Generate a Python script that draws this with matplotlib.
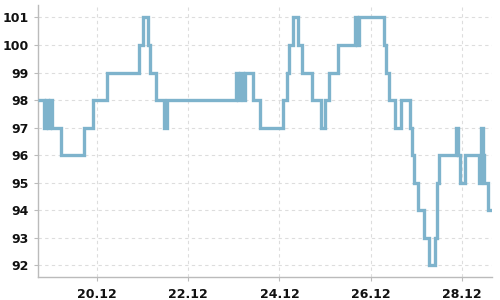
import numpy as np
import pandas as pd
import matplotlib
matplotlib.use('Agg')
import matplotlib.pyplot as plt
import matplotlib.dates as mdates

# momentos en que cambia el valor y valor a partir de ese momento
fechas = ['2020-12-18 17:00', '2020-12-18 20:00', '2020-12-18 21:00',
          '2020-12-18 22:00', '2020-12-18 23:00', '2020-12-19 00:00',
          '2020-12-19 05:00', '2020-12-19 17:00', '2020-12-19 22:00',
          '2020-12-20 05:00', '2020-12-20 22:00', '2020-12-21 00:00',
          '2020-12-21 03:00', '2020-12-21 04:00', '2020-12-21 07:00',
          '2020-12-21 11:00', '2020-12-21 13:00', '2020-12-23 01:00',
          '2020-12-23 02:00', '2020-12-23 03:00', '2020-12-23 05:00',
          '2020-12-23 06:00', '2020-12-23 10:00', '2020-12-23 14:00',
          '2020-12-24 02:00', '2020-12-24 04:00', '2020-12-24 05:00',
          '2020-12-24 07:00', '2020-12-24 10:00', '2020-12-24 12:00',
          '2020-12-24 17:00', '2020-12-24 22:00', '2020-12-25 00:00',
          '2020-12-25 02:00', '2020-12-25 07:00', '2020-12-25 16:00',
          '2020-12-25 17:00', '2020-12-25 18:00', '2020-12-26 07:00',
          '2020-12-26 08:00', '2020-12-26 10:00', '2020-12-26 13:00',
          '2020-12-26 16:00', '2020-12-26 21:00', '2020-12-26 22:00',
          '2020-12-26 23:00', '2020-12-27 01:00', '2020-12-27 04:00',
          '2020-12-27 07:00', '2020-12-27 10:00', '2020-12-27 11:00',
          '2020-12-27 12:00', '2020-12-27 21:00', '2020-12-27 22:00',
          '2020-12-27 23:00', '2020-12-28 02:00', '2020-12-28 09:00',
          '2020-12-28 10:00', '2020-12-28 11:00', '2020-12-28 12:00',
          '2020-12-28 14:00', '2020-12-28 16:00']
valores = [98, 97, 98, 97, 98, 97, 96, 97, 98, 99, 100, 101, 100, 99, 98,
           97, 98, 99, 98, 99, 98, 99, 98, 97, 98, 99, 100, 101, 100, 99,
           98, 97, 98, 99, 100, 101, 100, 101, 100, 99, 98, 97, 98, 97, 96,
           95, 94, 93, 92, 93, 95, 96, 97, 96, 95, 96, 95, 97, 96, 95, 94,
           94]
yticks = [92, 93, 94, 95, 96, 97, 98, 99, 100, 101]

x = pd.to_datetime(fechas)
y = np.array(valores)

fig = plt.figure(figsize=(5, 3), dpi=100)
ax = fig.add_axes([0.0766, 0.0777, 0.9074, 0.9053])

ax.plot(x, y, drawstyle='steps-post', color='#7eb3cc', linewidth=2.4,
        solid_joinstyle='miter', solid_capstyle='butt', zorder=3)

ax.set_xlim(x[0], x[-1])
ax.set_ylim(91.58, 101.45)
ax.set_yticks(yticks)
ax.xaxis.set_major_locator(mdates.DayLocator(bymonthday=range(2, 32, 2)))
ax.xaxis.set_major_formatter(mdates.DateFormatter('%d.%m'))

for s in ['top', 'right']:
    ax.spines[s].set_visible(False)
for s in ['left', 'bottom']:
    ax.spines[s].set_color('#bbbbbb')
    ax.spines[s].set_linewidth(1.0)

ax.grid(True, color='#dddddd', linestyle=(0, (3, 3)), linewidth=0.8)
ax.tick_params(axis='both', colors='#bbbbbb', length=3, width=0.8,
               labelcolor='#111111', labelsize=9)
ax.tick_params(axis='x', pad=5)
ax.tick_params(axis='y', pad=4)
for lab in ax.get_xticklabels() + ax.get_yticklabels():
    lab.set_fontweight('bold')

fig.savefig('out.png')
plt.close('all')
